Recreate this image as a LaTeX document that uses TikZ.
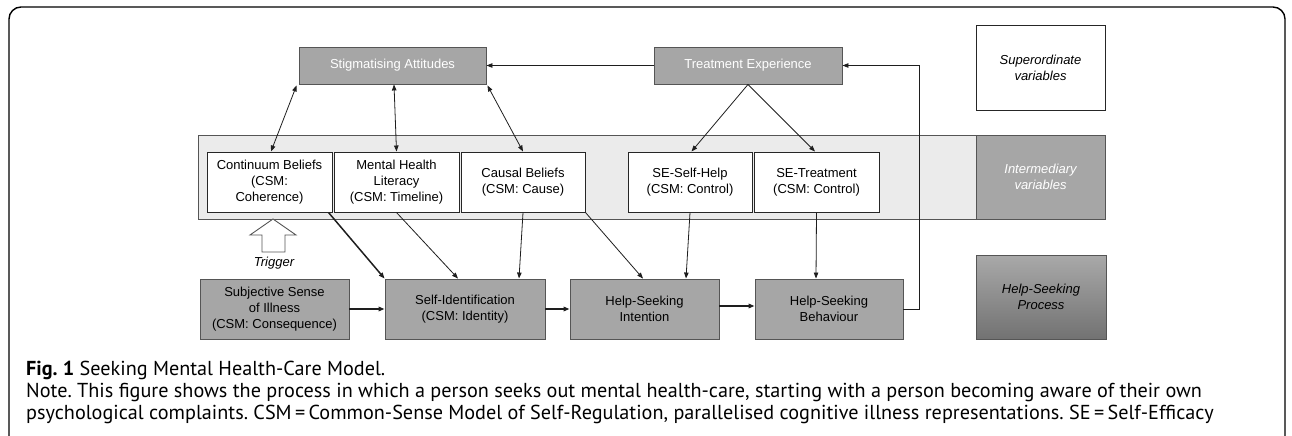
\documentclass[tikz,border=0pt]{standalone}
\usepackage{fontspec}
\setmainfont{Liberation Sans}
\newfontfamily\capfont{PT Sans}
\usetikzlibrary{arrows.meta,calc}
\definecolor{boxgray}{HTML}{A6A6A6}
\definecolor{boxline}{HTML}{555555}
\definecolor{bandfill}{HTML}{EBEBEB}
\definecolor{hsptop}{HTML}{A9A9A9}
\definecolor{hspbot}{HTML}{727272}
\definecolor{lineclr}{HTML}{1E1E1E}
\frenchspacing
\begin{document}
\begin{tikzpicture}[x=1pt,y=-1pt,
  every node/.style={font=\fontsize{13}{15.7}\selectfont, align=center, inner sep=0pt},
  gbox/.style={draw=boxline, fill=boxgray, line width=0.9pt},
  wbox/.style={draw=black!85, fill=white, line width=1pt, minimum width=124pt, minimum height=60pt},
  pbox/.style={gbox, minimum height=60pt},
  conn/.style={draw=lineclr, line width=0.8pt, -{Triangle[length=6pt,width=4.5pt]}},
  thconn/.style={conn, line width=1.5pt},
  dconn/.style={draw=lineclr, line width=0.8pt, {Triangle[length=6pt,width=4.5pt]}-{Triangle[length=6pt,width=4.5pt]}},
  capline/.style={anchor=base west, font=\capfont\fontsize{20.2}{22}\selectfont},
]
\useasboundingbox (0,0) rectangle (1292,436);
% outer frame
\draw[line width=1.4pt, black] (9,440) -- (9,19) arc[start angle=180,end angle=270,radius=12] -- (1273,7) arc[start angle=270,end angle=360,radius=12] -- (1285,440);

% superordinate row
\node[gbox, text=white, minimum width=187pt, minimum height=37pt] (stig) at (392.5,65.5) {Stigmatising Attitudes};
\node[gbox, text=white, minimum width=188pt, minimum height=37pt] (treat) at (748,65.5) {Treatment Experience};
\node[draw=black!85, fill=white, line width=1pt, minimum width=129pt, minimum height=84pt, font=\fontsize{13}{15.7}\selectfont\itshape] (super) at (1040.5,68) {Superordinate\\variables};

% intermediary band
\node[draw=boxline, fill=bandfill, line width=0.9pt, minimum width=778pt, minimum height=84pt] (band) at (587,177) {};
\node[gbox, text=white, minimum width=129pt, minimum height=84pt, font=\fontsize{13}{15.7}\selectfont\itshape] (inter) at (1040.5,177) {Intermediary\\variables};

\node[wbox, minimum width=125pt] (cont) at (269.5,182) {Continuum Beliefs\\(CSM:\\Coherence)};
\node[wbox, minimum width=125pt] (mhl) at (396.5,182) {Mental Health\\Literacy\\(CSM: Timeline)};
\node[wbox] (causal) at (523,182) {Causal Beliefs\\(CSM: Cause)};
\node[wbox] (seself) at (690,182) {SE-Self-Help\\(CSM: Control)};
\node[wbox, minimum width=125pt] (setreat) at (816.5,182) {SE-Treatment\\(CSM: Control)};

% process row
\node[pbox, minimum width=149pt] (subj) at (274.5,309) {Subjective Sense\\of Illness\\(CSM: Consequence)};
\node[pbox, minimum width=160pt] (selfid) at (465,309) {Self-Identification\\(CSM: Identity)};
\node[pbox, minimum width=149pt] (hsi) at (644.5,309) {Help-Seeking\\Intention};
\node[pbox, minimum width=148pt] (hsb) at (829,309) {Help-Seeking\\Behaviour};
\node[draw=boxline, line width=0.9pt, top color=hsptop, bottom color=hspbot, minimum width=130pt, minimum height=84pt, font=\fontsize{13}{15.7}\selectfont\itshape] (hsp) at (1041,297) {Help-Seeking\\Process};

% trigger
\draw[draw=boxline, fill=white, line width=0.9pt] (273,219) -- (296,235) -- (285,235) -- (285,252) -- (262,252) -- (262,235) -- (250,235) -- cycle;
\node[font=\fontsize{13}{15.7}\selectfont\itshape] (trig) at (274,263) {Trigger};

% connectors top
\draw[dconn] ($(stig.south west)+(-2,1)$) -- ($(cont.north)+(1.5,0)$);
\draw[dconn] ($(stig.south)+(1.5,0)$) -- (mhl.north);
\draw[dconn] ($(stig.south east)+(1,1)$) -- (causal.north);
\draw[conn] (treat.west) -- (stig.east);
\draw[conn] (treat.south) -- ($(seself.north)+(1.5,0)$);
\draw[conn] (treat.south) -- ($(setreat.north)+(-1.5,0)$);
\draw[conn] (hsb.east) -- ++(16,0) |- (treat.east);

% connectors to process row
\draw[thconn] ($(cont.south east)+(-4,0)$) -- (selfid.north west);
\draw[conn] (mhl.south) -- ($(selfid.north)+(-7,0)$);
\draw[conn] (causal.south) -- ($(selfid.north)+(54,0)$);
\draw[conn] (causal.south east) -- ($(hsi.north)+(-1.5,0)$);
\draw[conn] (seself.south) -- ($(hsi.north)+(41.5,0)$);
\draw[conn] (setreat.south) -- ($(hsb.north)+(-13,0)$);
\draw[thconn] (subj.east) -- (selfid.west);
\draw[thconn] (selfid.east) -- (hsi.west);
\draw[thconn] ($(hsi.east)+(0,-3)$) -- ($(hsb.west)+(0,-3)$);

% caption
\node[capline] (cap1) at (26,375) {\textbf{Fig. 1} Seeking Mental Health-Care Model.};
\node[capline] (cap2) at (26,397) {Note. This figure shows the process in which a person seeks out mental health-care, starting with a person becoming aware of their own};
\node[capline] (cap3) at (26,419) {psychological complaints. CSM\,=\,Common-Sense Model of Self-Regulation, parallelised cognitive illness representations. SE\,=\,Self-Efficacy};
\end{tikzpicture}
\end{document}
